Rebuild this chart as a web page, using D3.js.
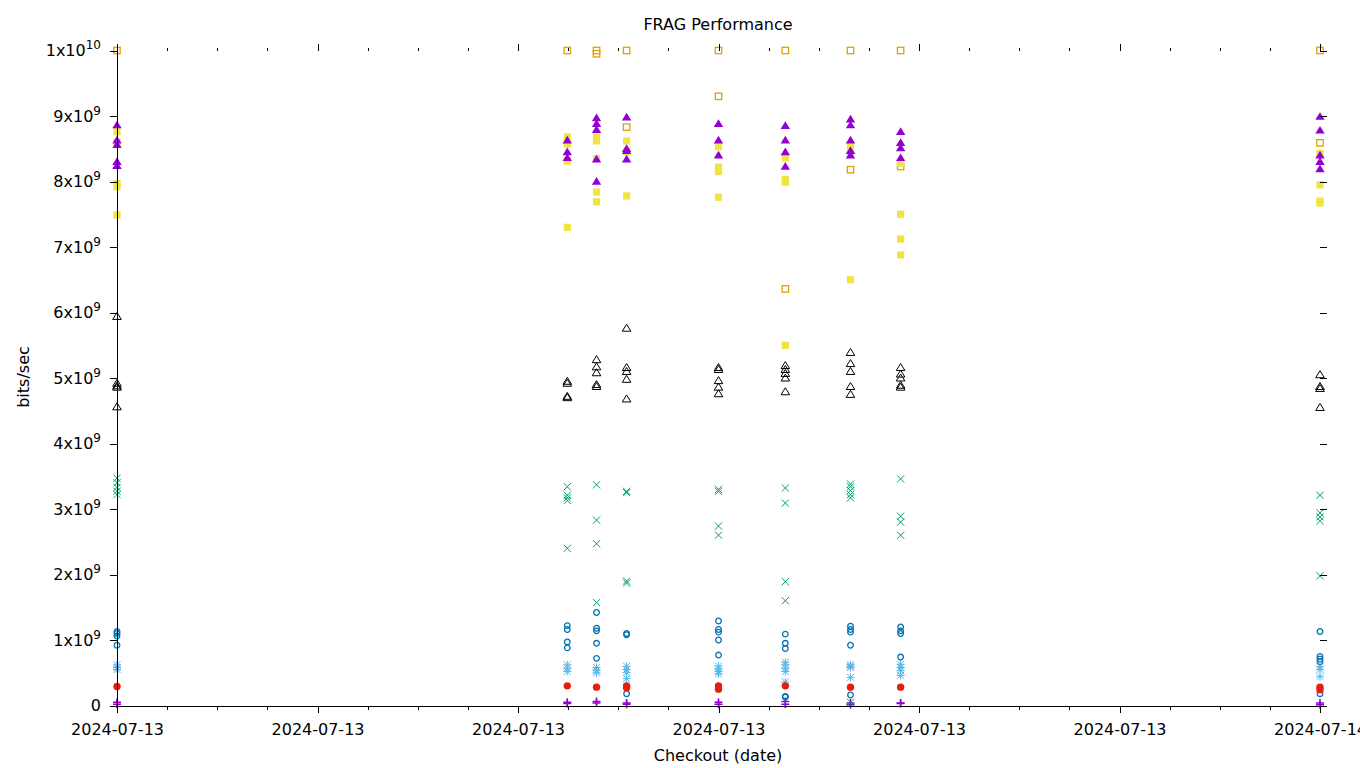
<!DOCTYPE html>
<html>
<head>
<meta charset="utf-8">
<script src="https://cdn.jsdelivr.net/npm/d3@7/dist/d3.min.js"></script>
<style>
  html, body { margin: 0; padding: 0; background: #fff; }
  svg { display: block; }
  text { font-family: "DejaVu Sans", sans-serif; fill: #000; }
</style>
</head>
<body>
<svg id="chart" width="1360" height="768"></svg>
<script>
// ---- data (values in units of 1e9 bits/sec) ----
const checkouts = [
  "2024-07-13T00:00:00Z", "2024-07-13T08:59:00Z", "2024-07-13T09:34:00Z",
  "2024-07-13T10:10:00Z", "2024-07-13T12:00:00Z", "2024-07-13T13:20:00Z",
  "2024-07-13T14:38:00Z", "2024-07-13T15:38:00Z", "2024-07-14T00:00:00Z"
];
const plusSeries = [[0.05,0.02],[0.05,0.03],[0.06,0.04],[0.04,0.02],[0.05,0.02],[0.06,0.02],[0.04,0.01],[0.04,0.03],[0.04,0.01]];
const crossSeries = [[3.47,3.40,3.33,3.27,3.22],[3.34,3.21,3.17,3.13,2.40],[3.37,2.83,2.47,1.57],[3.27,3.25,1.90,1.87],[3.30,3.27,2.74,2.60],[3.32,3.09,1.89,1.60],[3.38,3.34,3.28,3.22,3.17,0.05],[3.46,2.89,2.80,2.60],[3.21,2.94,2.88,2.82,1.98]];
const starSeries = [[0.62,0.58,0.55],[0.62,0.57,0.52],[0.58,0.53,0.50],[0.60,0.55,0.50,0.41],[0.60,0.56,0.52,0.48],[0.66,0.62,0.57,0.52,0.36],[0.62,0.60,0.58,0.43],[0.63,0.58,0.53,0.46],[0.59,0.55,0.44]];
const openSquareSeries = [[10.0],[10.0],[10.0,9.95],[10.0,8.83],[10.0,9.30],[10.0,6.36],[10.0,8.18],[10.0,8.23],[10.0,8.59]];
const filledSquareSeries = [[8.76,8.60,7.97,7.92,7.49],[8.68,8.57,8.31,7.30],[8.68,8.62,8.35,7.84,7.69],[8.62,8.45,7.78],[8.53,8.22,8.15,7.76],[8.36,8.03,7.99,5.50],[8.55,8.45,6.50],[8.28,7.50,7.12,6.88],[8.43,7.95,7.70,7.67]];
const openCircleSeries = [[1.13,1.10,1.06,0.92],[1.22,1.16,0.97,0.88],[1.42,1.18,1.14,0.95,0.72],[1.10,1.08,0.18],[1.29,1.16,1.12,1.00,0.77],[1.09,0.95,0.87,0.14,0.13],[1.21,1.16,1.12,0.92,0.16],[1.20,1.14,1.10,0.74],[1.13,0.75,0.71,0.67,0.18]];
const filledCircleSeries = [[0.29],[0.30],[0.28],[0.30,0.27],[0.30,0.25],[0.30],[0.28],[0.28],[0.28,0.24]];
const openTriangleSeries = [[5.94,4.92,4.88,4.86,4.56],[4.95,4.92,4.72,4.70],[5.28,5.17,5.08,4.90,4.87],[5.76,5.16,5.10,4.98,4.68],[5.16,5.13,4.96,4.86,4.76],[5.19,5.13,5.07,5.00,4.79],[5.39,5.22,5.10,4.87,4.75],[5.16,5.06,5.00,4.89,4.86],[5.05,4.87,4.84,4.55]];
const filledTriangleSeries = [[8.86,8.63,8.56,8.30,8.24],[8.63,8.45,8.36],[8.97,8.88,8.79,8.34,8.00],[8.98,8.50,8.47,8.34],[8.88,8.63,8.40],[8.85,8.63,8.45,8.23],[8.95,8.86,8.63,8.47,8.40],[8.76,8.59,8.51,8.36],[8.99,8.78,8.40,8.30,8.19]];

const yTickValues = [0,1,2,3,4,5,6,7,8,9,10]; // x 1e9
const xRange = ["2024-07-13T00:00:00Z", "2024-07-14T00:00:00Z"];
const title = "FRAG Performance";
const xLabel = "Checkout (date)";
const yLabel = "bits/sec";

// series definitions (gnuplot default order of colours / point types)
const series = [
  { values: plusSeries, type: "plus", color: "#9400d3" },
  { values: crossSeries, type: "cross", color: "#009e73" },
  { values: starSeries, type: "star", color: "#56b4e9" },
  { values: openSquareSeries, type: "osquare", color: "#e69f00" },
  { values: filledSquareSeries, type: "fsquare", color: "#f0e442" },
  { values: openCircleSeries, type: "ocircle", color: "#0072b2" },
  { values: filledCircleSeries, type: "fcircle", color: "#e51e10" },
  { values: openTriangleSeries, type: "otri", color: "#000000" },
  { values: filledTriangleSeries, type: "ftri", color: "#9400d3" }
];

// ---- layout ----
const L = 117, R = 1320, T = 50.5, B = 705.5;
const svg = d3.select("#chart");

const x = d3.scaleUtc().domain(xRange.map(d => new Date(d))).range([L, R]);
const y = d3.scaleLinear().domain([0, 10e9]).range([B, T]);

// ---- points ----
const pts = svg.append("g");
series.forEach(s => {
  const data = [];
  s.values.forEach((vals, i) => vals.forEach(v => data.push({ t: new Date(checkouts[i]), v: v * 1e9 })));
  const g = pts.append("g");
  const sel = g.selectAll("g.p").data(data).join("g")
    .attr("transform", d => `translate(${x(d.t)},${y(d.v)})`);
  const c = s.color;
  switch (s.type) {
    case "plus":
      sel.append("path").attr("d", "M-4,0H4M0,-4V4").attr("stroke", c).attr("stroke-width", 1.5).attr("fill", "none");
      break;
    case "cross":
      sel.append("path").attr("d", "M-3.6,-3.6L3.6,3.6M-3.6,3.6L3.6,-3.6").attr("stroke", c).attr("stroke-width", 1).attr("fill", "none");
      break;
    case "star":
      sel.append("path").attr("d", "M-3.5,-3.5L3.5,3.5M-3.5,3.5L3.5,-3.5M-4,0H4M0,-4V4").attr("stroke", c).attr("stroke-width", 1).attr("fill", "none");
      break;
    case "osquare":
      sel.append("rect").attr("x", -3.2).attr("y", -3.2).attr("width", 6.4).attr("height", 6.4).attr("stroke", c).attr("stroke-width", 1.3).attr("fill", "none");
      break;
    case "fsquare":
      sel.append("rect").attr("x", -3.6).attr("y", -3.6).attr("width", 7.2).attr("height", 7.2).attr("fill", c);
      break;
    case "ocircle":
      sel.append("circle").attr("r", 2.8).attr("stroke", c).attr("stroke-width", 1.3).attr("fill", "none");
      break;
    case "fcircle":
      sel.append("circle").attr("r", 3.7).attr("fill", c);
      break;
    case "otri":
      sel.append("path").attr("d", "M0,-4L4.3,3H-4.3Z").attr("stroke", c).attr("stroke-width", 1).attr("fill", "none");
      break;
    case "ftri":
      sel.append("path").attr("d", "M0,-4.5L4.7,3.2H-4.7Z").attr("fill", c);
      break;
  }
});

// ---- axes ----
const majorX = d3.utcHour.every(4).range(x.domain()[0], d3.utcHour.offset(x.domain()[1], 1));
const minorX = d3.utcHour.every(1).range(x.domain()[0], d3.utcHour.offset(x.domain()[1], 1)).filter(d => d.getUTCHours() % 4 !== 0);
const fmt = d3.utcFormat("%Y-%m-%d");

function styleAxis(g) {
  g.selectAll("line").attr("stroke", "#000").attr("stroke-width", 1).attr("shape-rendering", "crispEdges");
  g.selectAll(".domain").attr("stroke", "#000").attr("stroke-width", 1).attr("shape-rendering", "crispEdges");
}

// bottom major
const gb = svg.append("g").attr("transform", `translate(0,${B})`)
  .call(d3.axisBottom(x).tickValues(majorX).tickFormat(fmt).tickSize(7).tickSizeOuter(0).tickPadding(11));
gb.selectAll("text").attr("font-size", 16).attr("font-family", "DejaVu Sans").attr("fill", "#000");
styleAxis(gb);
gb.select(".domain").attr("d", `M${L - 7},0.5H${R + 7}`);
// bottom minor
const gbm = svg.append("g").attr("transform", `translate(0,${B})`)
  .call(d3.axisBottom(x).tickValues(minorX).tickFormat("").tickSize(4).tickSizeOuter(0));
gbm.select(".domain").remove();
styleAxis(gbm);
// top major / minor (mirror, no labels)
const gt = svg.append("g").attr("transform", `translate(0,${T})`)
  .call(d3.axisTop(x).tickValues(majorX).tickFormat("").tickSize(7));
gt.select(".domain").remove();
styleAxis(gt);
const gtm = svg.append("g").attr("transform", `translate(0,${T})`)
  .call(d3.axisTop(x).tickValues(minorX).tickFormat("").tickSize(3));
gtm.select(".domain").remove();
styleAxis(gtm);

// left
const gl = svg.append("g").attr("transform", `translate(${L},0)`)
  .call(d3.axisLeft(y).tickValues(yTickValues.map(v => v * 1e9)).tickSize(7).tickSizeOuter(0).tickPadding(9).tickFormat(""));
styleAxis(gl);
gl.select(".domain").attr("d", `M0.5,${T - 7}V${B + 0.5}`);
gl.selectAll(".tick text").each(function(d) {
  const t = d3.select(this).attr("font-size", 16).attr("font-family", "DejaVu Sans").attr("fill", "#000");
  const k = Math.round(d / 1e9);
  if (k === 0) { t.text("0"); return; }
  let mant, exp;
  if (k === 10) { mant = 1; exp = 10; } else { mant = k; exp = 9; }
  t.text(null);
  t.append("tspan").text(mant + "x10");
  t.append("tspan").attr("font-size", 12).attr("dy", -7).text(exp);
});
// right mirror
const gr = svg.append("g").attr("transform", `translate(${R},0)`)
  .call(d3.axisRight(y).tickValues(yTickValues.map(v => v * 1e9)).tickSize(7).tickFormat(""));
gr.select(".domain").remove();
styleAxis(gr);

// ---- titles ----
svg.append("text").attr("x", 718).attr("y", 30).attr("text-anchor", "middle").attr("font-size", 16).text(title);
svg.append("text").attr("x", 718).attr("y", 761).attr("text-anchor", "middle").attr("font-size", 16).text(xLabel);
svg.append("text").attr("transform", "translate(29,377) rotate(-90)").attr("text-anchor", "middle").attr("font-size", 16).text(yLabel);
</script>
</body>
</html>
